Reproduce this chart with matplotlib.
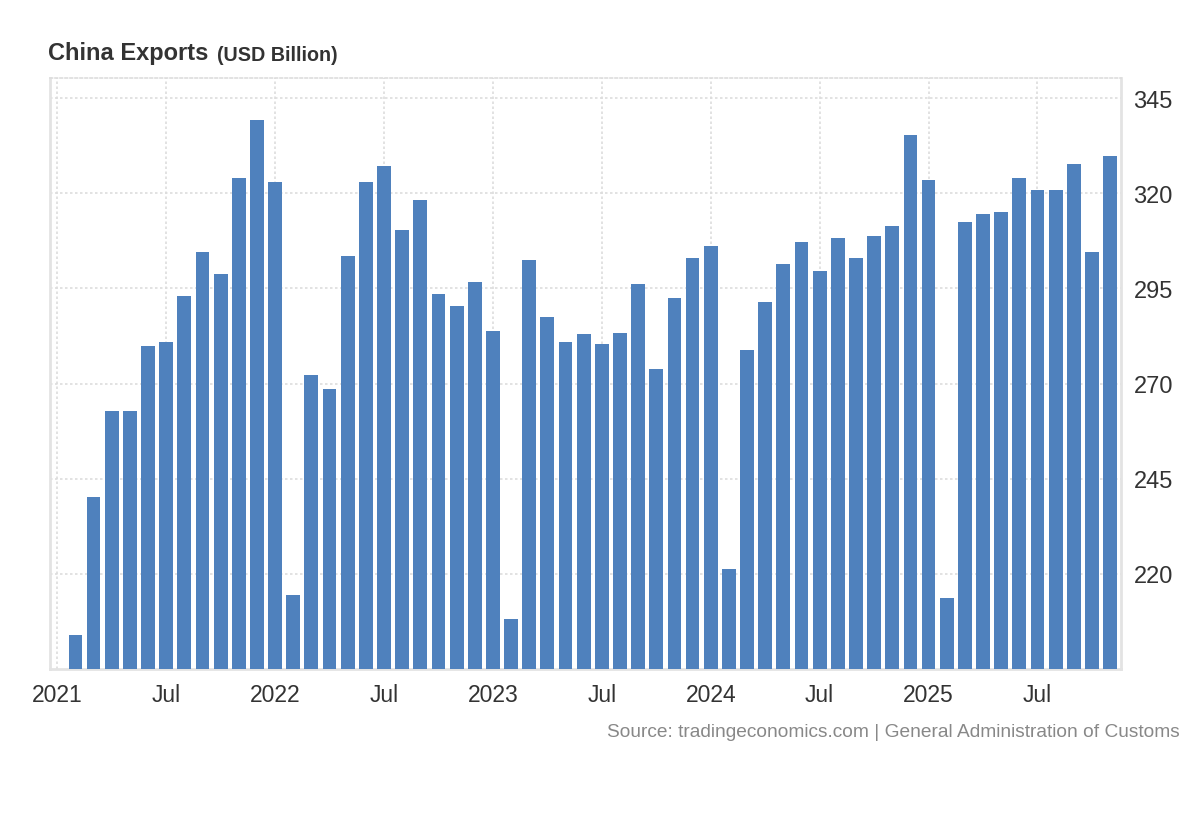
import matplotlib
matplotlib.use("Agg")
from matplotlib import pyplot as plt

plt.rcParams['font.family'] = ['Liberation Sans', 'DejaVu Sans']

# months counted from Jan 2021 (= 0); first reading is Feb 2021
months = list(range(1, 59))
exports = [
    203.9, 240.3, 262.8, 262.8, 279.8, 280.8, 292.9, 304.5, 298.7, 324.0, 339.3,   # 2021 Feb-Dec
    322.9, 214.5, 272.3, 268.7, 303.5, 322.9, 327.2, 310.3, 318.2, 293.5, 290.3, 296.6,  # 2022
    283.9, 208.1, 302.4, 287.6, 280.8, 282.9, 280.3, 283.4, 296.1, 273.9, 292.4, 303.0,  # 2023
    306.1, 221.2, 278.7, 291.4, 301.3, 307.1, 299.7, 308.2, 303.0, 308.7, 311.3, 335.4,  # 2024
    323.5, 213.6, 312.4, 314.5, 315.0, 324.0, 320.8, 320.8, 327.6, 304.5, 329.7,         # 2025 Jan-Nov
]
tick_pos = [0, 6, 12, 18, 24, 30, 36, 42, 48, 54]
tick_labels = ["2021", "Jul", "2022", "Jul", "2023", "Jul", "2024", "Jul", "2025", "Jul"]
y_ticks = [220, 245, 270, 295, 320, 345]

fig = plt.figure(figsize=(12, 8.2), dpi=100)
ax = fig.add_axes([50 / 1200, 1 - 670 / 820, 1071 / 1200, 591 / 820])

ax.bar(months, exports, 0.76, color="#4f81bd", zorder=3)

ax.set_xlim(-0.4, 58.6)
ax.set_ylim(195, 350.3)

ax.set_xticks(tick_pos)
ax.set_xticklabels(tick_labels)
ax.set_yticks(y_ticks)
ax.yaxis.tick_right()

ax.tick_params(axis="both", length=0, colors="#333333")
ax.tick_params(axis="x", pad=10, labelsize=16.5)
ax.tick_params(axis="y", pad=9, labelsize=17)

# dotted grid like the original
ax.grid(True, linestyle=(0, (1.5, 1.5)), color="#dddddd", linewidth=1.2, zorder=0)
ax.set_axisbelow(True)

for side in ["left", "right", "bottom"]:
    ax.spines[side].set_color("#e3e3e3")
    ax.spines[side].set_linewidth(2)
ax.spines["top"].set_color("#dddddd")
ax.spines["top"].set_linestyle((0, (1.5, 1.5)))
ax.spines["top"].set_linewidth(1.2)

# title
t = fig.text(48 / 1200, 1 - 60 / 820, "China Exports", fontsize=17, fontweight="bold", color="#333333")
ax.annotate("(USD Billion)", xy=(1, 0), xycoords=t, xytext=(6, 0), textcoords="offset points",
            fontsize=14.2, fontweight="bold", color="#333333", va="bottom")

fig.text(1180 / 1200, 1 - 733 / 820, "Source: tradingeconomics.com | General Administration of Customs",
         fontsize=13.75, color="#888888", ha="right", va="center")

plt.savefig("out.png", dpi=100)
